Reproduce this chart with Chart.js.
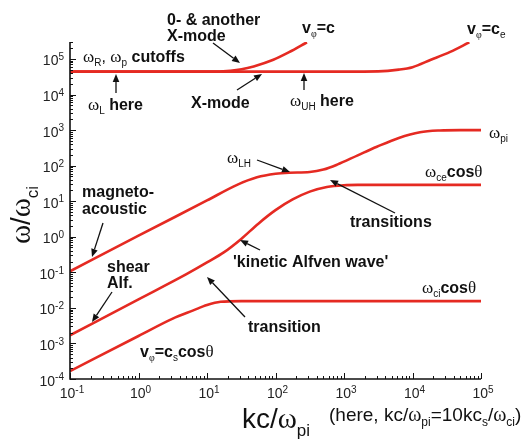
<!DOCTYPE html>
<html><head><meta charset="utf-8">
<script src="https://cdn.jsdelivr.net/npm/chart.js@4"></script>
<style>html,body{margin:0;padding:0;background:#fff}#wrap{width:524px;height:440px}</style>
</head><body><div id="wrap"><canvas id="c" width="524" height="440"></canvas></div>
<script>
// ---- axis tick labels ----
const xTickValues = [0.1, 1, 10, 100, 1000, 10000, 100000];
const xTickExps = ['-1', '0', '1', '2', '3', '4', '5'];
const yTickValues = [1e-4, 1e-3, 1e-2, 1e-1, 1, 10, 100, 1000, 10000, 100000];
const yTickExps = ['-4', '-3', '-2', '-1', '0', '1', '2', '3', '4', '5'];

// ---- series (kc/ω_pi vs ω/ω_ci) ----
const oModeK = [0.1, 1, 10, 22, 32, 48, 93, 158, 288];
const oModeW = [4.4e4, 4.4e4, 4.42e4, 4.68e4, 5.13e4, 6.17e4, 9.5e4, 1.55e5, 2.95e5];

const xModeK = [0.1, 1000, 3160, 6310, 10000, 18200, 35500, 67600];
const xModeW = [4.4e4, 4.4e4, 4.47e4, 5.01e4, 5.89e4, 9.33e4, 1.58e5, 2.95e5];

const magnetoK = [0.1, 1, 10, 27.5, 53.7, 100, 158, 316, 501, 794, 1585, 3020, 6310, 12880, 25100, 50100, 100000];
const magnetoW = [0.107, 1.07, 10.5, 28.8, 46.8, 58.9, 63.1, 66.1, 77.6, 107, 195, 339, 603, 871, 977, 1000, 1000];

const shearK = [0.1, 1, 5.01, 10, 17.8, 31.6, 56.2, 100, 178, 316, 562, 1000, 1585, 100000];
const shearW = [0.0017, 0.0174, 0.089, 0.19, 0.37, 0.87, 2.34, 5.6, 11.2, 18.6, 25.1, 28.2, 28.8, 28.8];

const soundK = [0.1, 1, 3.16, 6.31, 10, 15.8, 31.6, 100000];
const soundW = [1.66e-4, 1.62e-3, 5.0e-3, 8.5e-3, 0.012, 0.0148, 0.0155, 0.0155];

const RED = '#e52a22';
function pts(xs, ys) { return xs.map((v, i) => ({ x: v, y: ys[i] })); }
function ds(xs, ys) {
  return { data: pts(xs, ys), borderColor: RED, borderWidth: 2.6, pointRadius: 0,
           fill: false, cubicInterpolationMode: 'monotone' };
}

// ---- annotations ----
const ANN = [
  { x: 167, y: 25, segs: [['0- & another', 'b']] },
  { x: 167, y: 41, segs: [['X-mode', 'b']] },
  { x: 83, y: 62, segs: [['ω', 'g'], ['R', 's'], [', ', 'n'], ['ω', 'g'], ['p', 's'], [' cutoffs', 'b']] },
  { x: 88, y: 110, segs: [['ω', 'g'], ['L', 's'], [' here', 'b']] },
  { x: 191, y: 108, segs: [['X-mode', 'b']] },
  { x: 302, y: 33, segs: [['v', 'b'], ['φ', 'S'], ['=c', 'b']] },
  { x: 467, y: 34, segs: [['v', 'b'], ['φ', 'S'], ['=c', 'b'], ['e', 's']] },
  { x: 290, y: 106, segs: [['ω', 'g'], ['UH', 's'], [' here', 'b']] },
  { x: 489, y: 138, segs: [['ω', 'g'], ['pi', 's']] },
  { x: 227, y: 163, segs: [['ω', 'g'], ['LH', 's']] },
  { x: 425, y: 177, segs: [['ω', 'g'], ['ce', 's'], ['cos', 'b'], ['θ', 'g']] },
  { x: 350, y: 227, segs: [['transitions', 'b']] },
  { x: 82, y: 197, segs: [['magneto-', 'b']] },
  { x: 82, y: 214, segs: [['acoustic', 'b']] },
  { x: 107, y: 272, segs: [['shear', 'b']] },
  { x: 107, y: 288, segs: [['Alf.', 'b']] },
  { x: 233, y: 267, segs: [["'kinetic Alfven wave'", 'b']] },
  { x: 248, y: 332, segs: [['transition', 'b']] },
  { x: 140, y: 357, segs: [['v', 'b'], ['φ', 'S'], ['=c', 'b'], ['s', 's'], ['cos', 'b'], ['θ', 'g']] },
  { x: 422, y: 293, segs: [['ω', 'g'], ['ci', 's'], ['cos', 'b'], ['θ', 'g']] }
];
const ARROWS = [
  [213, 43, 240, 63], [116, 93, 116, 74], [237, 90, 262, 74], [304, 90, 304, 73],
  [257, 160, 290, 172], [395, 213, 330, 180], [103, 223, 92, 257], [112, 292, 92, 322],
  [260, 250, 240, 240], [245, 317, 207, 277]
];

const SANS = '"Liberation Sans", Arial, Helvetica, sans-serif';
const SERIF = '"Liberation Serif", "DejaVu Serif", serif';
function segFont(t, size) {
  switch (t) {
    case 'b': return `bold ${size}px ${SANS}`;
    case 'n': return `${size}px ${SANS}`;
    case 'g': return `${Math.round(size * 1.05)}px ${SERIF}`;
    case 's': return `${Math.round(size * 0.62)}px ${SANS}`;
    case 'S': return `${Math.round(size * 0.62)}px ${SERIF}`;
    case 'p': return `${Math.round(size * 0.68)}px ${SANS}`;
  }
}
function segOff(t, size) {
  if (t === 's' || t === 'S') return size * 0.28;
  if (t === 'p') return -size * 0.38;
  return 0;
}
function richWidth(ctx, segs, size) {
  let w = 0;
  for (const [txt, t] of segs) { ctx.font = segFont(t, size); w += ctx.measureText(txt).width; }
  return w;
}
function drawRich(ctx, segs, x, y, size, align) {
  const w = richWidth(ctx, segs, size);
  let cx = align === 'center' ? x - w / 2 : align === 'right' ? x - w : x;
  ctx.textAlign = 'left'; ctx.textBaseline = 'alphabetic';
  for (const [txt, t] of segs) {
    ctx.font = segFont(t, size);
    ctx.fillText(txt, cx, y + segOff(t, size));
    cx += ctx.measureText(txt).width;
  }
}
function arrow(ctx, x1, y1, x2, y2) {
  const ang = Math.atan2(y2 - y1, x2 - x1), L = 8, W = 3.3;
  const bx = x2 - L * Math.cos(ang), by = y2 - L * Math.sin(ang);
  ctx.lineWidth = 1.3; ctx.strokeStyle = '#111'; ctx.fillStyle = '#111';
  ctx.beginPath(); ctx.moveTo(x1, y1); ctx.lineTo(bx, by); ctx.stroke();
  ctx.beginPath(); ctx.moveTo(x2, y2);
  ctx.lineTo(bx + W * Math.sin(ang), by - W * Math.cos(ang));
  ctx.lineTo(bx - W * Math.sin(ang), by + W * Math.cos(ang));
  ctx.closePath(); ctx.fill();
}

const deco = {
  id: 'deco',
  afterDraw(chart) {
    const { ctx, chartArea: a } = chart;
    const xs = chart.scales.x, ys = chart.scales.y;
    ctx.save();
    ctx.fillStyle = '#111'; ctx.strokeStyle = '#111';
    // axis lines
    ctx.lineWidth = 1.6;
    ctx.beginPath(); ctx.moveTo(a.left, a.top); ctx.lineTo(a.left, a.bottom); ctx.lineTo(a.right, a.bottom); ctx.stroke();
    // y ticks
    ctx.lineWidth = 1;
    for (let e = -4; e <= 5; e++) {
      for (let m = 1; m <= 9; m++) {
        const v = m * Math.pow(10, e);
        if (v > ys.max * 1.0001) continue;
        const py = Math.round(ys.getPixelForValue(v)) + 0.5;
        const len = m === 1 ? 6 : 3;
        ctx.beginPath(); ctx.moveTo(a.left, py); ctx.lineTo(a.left + len, py); ctx.stroke();
      }
    }
    // x ticks
    for (let e = -1; e <= 5; e++) {
      for (let m = 1; m <= 9; m++) {
        const v = m * Math.pow(10, e);
        if (v > xs.max * 1.0001) continue;
        const px = Math.round(xs.getPixelForValue(v)) + 0.5;
        const len = m === 1 ? 6 : 3;
        ctx.beginPath(); ctx.moveTo(px, a.bottom); ctx.lineTo(px, a.bottom - len); ctx.stroke();
      }
    }
    // tick labels
    ctx.fillStyle = '#222';
    yTickValues.forEach((v, i) => {
      const py = ys.getPixelForValue(v);
      drawRich(ctx, [['10', 'n'], [yTickExps[i], 'p']], 64, py + 6.5, 14, 'right');
    });
    xTickValues.forEach((v, i) => {
      const px = xs.getPixelForValue(v);
      drawRich(ctx, [['10', 'n'], [xTickExps[i], 'p']], px + 2, 398, 14, 'center');
    });
    // axis titles
    ctx.fillStyle = '#111';
    drawRich(ctx, [['kc/', 'n'], ['ω', 'g'], ['pi', 's']], 242, 428, 28, 'left');
    drawRich(ctx, [['(here, kc/', 'n'], ['ω', 'g'], ['pi', 's'], ['=10kc', 'n'], ['s', 's'], ['/', 'n'], ['ω', 'g'], ['ci', 's'], [')', 'n']], 329, 421, 19, 'left');
    ctx.save();
    ctx.translate(30, 215); ctx.rotate(-Math.PI / 2);
    drawRich(ctx, [['ω', 'g'], ['/', 'n'], ['ω', 'g'], ['ci', 's']], 0, 0, 28, 'center');
    ctx.restore();
    // annotations
    ctx.fillStyle = '#111';
    for (const an of ANN) drawRich(ctx, an.segs, an.x, an.y, 16, 'left');
    for (const ar of ARROWS) arrow(ctx, ar[0], ar[1], ar[2], ar[3]);
    ctx.restore();
  }
};

new Chart(document.getElementById('c'), {
  type: 'line',
  data: { datasets: [ds(oModeK, oModeW), ds(xModeK, xModeW), ds(magnetoK, magnetoW), ds(shearK, shearW), ds(soundK, soundW)] },
  options: {
    responsive: false, animation: false, parsing: true,
    layout: { padding: { left: 70, right: 43, top: 42, bottom: 61 } },
    plugins: { legend: { display: false }, tooltip: { enabled: false } },
    scales: {
      x: { type: 'logarithmic', min: 0.1, max: 1e5, display: false },
      y: { type: 'logarithmic', min: 1e-4, max: 3.0e5, display: false }
    }
  },
  plugins: [deco]
});
</script>
</body></html>
